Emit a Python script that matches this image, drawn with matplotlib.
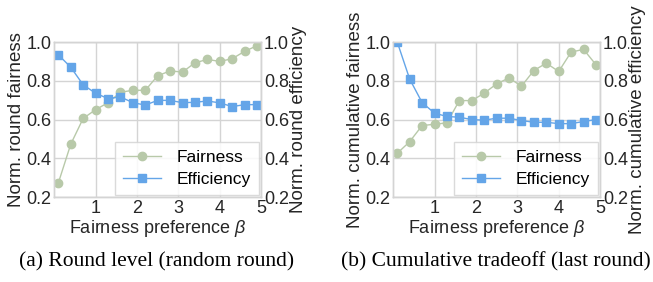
import numpy as np
import matplotlib
matplotlib.use("Agg")
import matplotlib.pyplot as plt

plt.rcParams['font.family'] = ['Liberation Sans', 'DejaVu Sans']
plt.rcParams['mathtext.fontset'] = 'custom'
plt.rcParams['mathtext.it'] = 'Liberation Sans:italic'
plt.rcParams['mathtext.rm'] = 'Liberation Sans'

# fairness preference beta
beta = [0.1, 0.4, 0.7, 1.0, 1.3, 1.6, 1.9, 2.2, 2.5, 2.8, 3.1, 3.4, 3.7, 4.0, 4.3, 4.6, 4.9]

# (a) round level
round_fair = [0.273, 0.473, 0.606, 0.651, 0.687, 0.741, 0.751, 0.751, 0.826, 0.851,
              0.845, 0.893, 0.910, 0.900, 0.914, 0.952, 0.981]
round_eff = [0.934, 0.870, 0.779, 0.736, 0.708, 0.717, 0.687, 0.675, 0.699, 0.699,
             0.687, 0.689, 0.696, 0.686, 0.667, 0.677, 0.677]

# (b) cumulative
cum_fair = [0.426, 0.486, 0.569, 0.576, 0.583, 0.698, 0.698, 0.736, 0.784, 0.815,
            0.772, 0.853, 0.891, 0.848, 0.948, 0.962, 0.883]
cum_eff = [1.0, 0.809, 0.688, 0.633, 0.616, 0.612, 0.600, 0.597, 0.607, 0.607,
           0.595, 0.586, 0.586, 0.579, 0.579, 0.590, 0.600]

panels = [
    (round_fair, round_eff, 'Norm. round fairness', 'Norm. round efficiency',
     '(a) Round level (random round)'),
    (cum_fair, cum_eff, 'Norm. cumulative fairness', 'Norm. cumulative efficiency',
     '(b) Cumulative tradeoff (last round)'),
]

fair_col = '#b8c9a9'
eff_col = '#64a5e8'
grid_col = '#d4d4d4'
fs = 13

fig = plt.figure(figsize=(6.53, 2.82), dpi=100)
lefts = [0.083, 0.602]
for (fair, eff, yl, yr, cap), left in zip(panels, lefts):
    ax = fig.add_axes([left, 0.301, 0.317, 0.550])
    ax2 = ax.twinx()
    l1, = ax.plot(beta, fair, color=fair_col, marker='o', markersize=6, lw=1,
                  label='Fairness')
    l2, = ax2.plot(beta, eff, color=eff_col, marker='s', markersize=6, lw=1,
                   label='Efficiency')
    for a in (ax, ax2):
        a.set_xlim(0, 5)
        a.set_ylim(0.2, 1.0)
        a.set_yticks([0.2, 0.4, 0.6, 0.8, 1.0])
        a.tick_params(length=0, labelsize=fs, pad=2, colors='#262626')
        for s in a.spines.values():
            s.set_color(grid_col)
            s.set_linewidth(1)
    ax.set_xticks([1, 2, 3, 4, 5])
    ax.grid(True, color=grid_col, lw=1)
    ax.set_axisbelow(True)
    ax2.grid(False)
    ax.set_ylabel(yl, fontsize=13.5, labelpad=1, color='#262626')
    ax2.set_ylabel(yr, fontsize=13.5, labelpad=1, color='#262626')
    ax.set_xlabel(r'Fairness preference $\beta$', fontsize=fs, labelpad=1, color='#262626')
    leg = ax2.legend([l1, l2], ['Fairness', 'Efficiency'], loc='lower right',
                     fontsize=12.5, frameon=True, fancybox=False, borderaxespad=0.15,
                     handlelength=2.2, handletextpad=0.9, labelspacing=0.4,
                     borderpad=0.45)
    leg.get_frame().set_edgecolor(grid_col)
    leg.get_frame().set_alpha(0.85)
    fig.text(left + 0.157, 0.071, cap, ha='center', va='center', fontsize=15.5,
             family='Liberation Serif')

fig.savefig('out.png', dpi=100)
